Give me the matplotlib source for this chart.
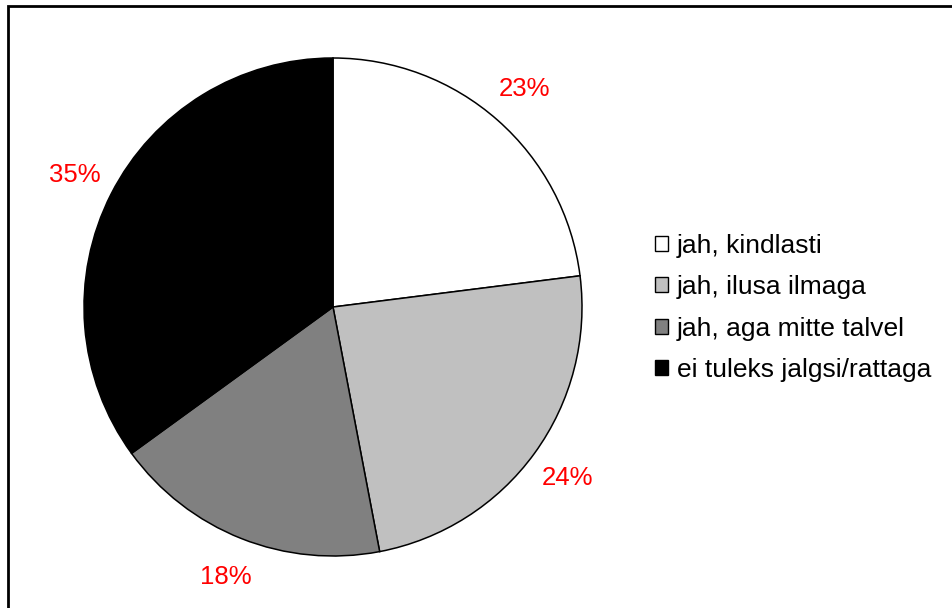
import matplotlib
matplotlib.use("Agg")
import matplotlib.pyplot as plt
from matplotlib.patches import Patch
from matplotlib.lines import Line2D

categories = ["jah, kindlasti", "jah, ilusa ilmaga", "jah, aga mitte talvel", "ei tuleks jalgsi/rattaga"]
values = [23, 24, 18, 35]
colors = ["#FFFFFF", "#C0C0C0", "#808080", "#000000"]

plt.rcParams['font.family'] = ['Liberation Sans', 'DejaVu Sans']

W, H = 952, 608
fig = plt.figure(figsize=(W / 100, H / 100), dpi=100)
fig.patch.set_facecolor("white")

cx, cy, r = 333, 307, 249
ax = fig.add_axes([(cx - r) / W, (H - cy - r) / H, 2 * r / W, 2 * r / H])
wedges, texts, autotexts = ax.pie(
    values, colors=colors, startangle=90, counterclock=False,
    autopct=lambda p: f"{p:.0f}%", pctdistance=1.165,
    wedgeprops=dict(edgecolor="black", linewidth=1.1),
    textprops=dict(color="red", fontsize=18.5))
ax.set_xlim(-1, 1)
ax.set_ylim(-1, 1)
ax.set_aspect("equal")
ax.axis("off")

handles = [Patch(facecolor=c, edgecolor="black", linewidth=1.0) for c in colors]
leg = fig.legend(handles, categories, loc="center left",
                 bbox_to_anchor=(655 / W, (H - 308) / H), bbox_transform=fig.transFigure,
                 frameon=False, fontsize=19, handlelength=0.5, handleheight=0.5,
                 handletextpad=0.33, labelspacing=0.66, borderpad=0, borderaxespad=0)

# outer frame (top and left edges visible)
fig.add_artist(Line2D([7.5 / W, 7.5 / W, 1.0], [0.0, 1 - 5.5 / H, 1 - 5.5 / H],
                      transform=fig.transFigure, color="black", linewidth=2.0,
                      solid_joinstyle="miter"))

fig.savefig("out.png", dpi=100)
